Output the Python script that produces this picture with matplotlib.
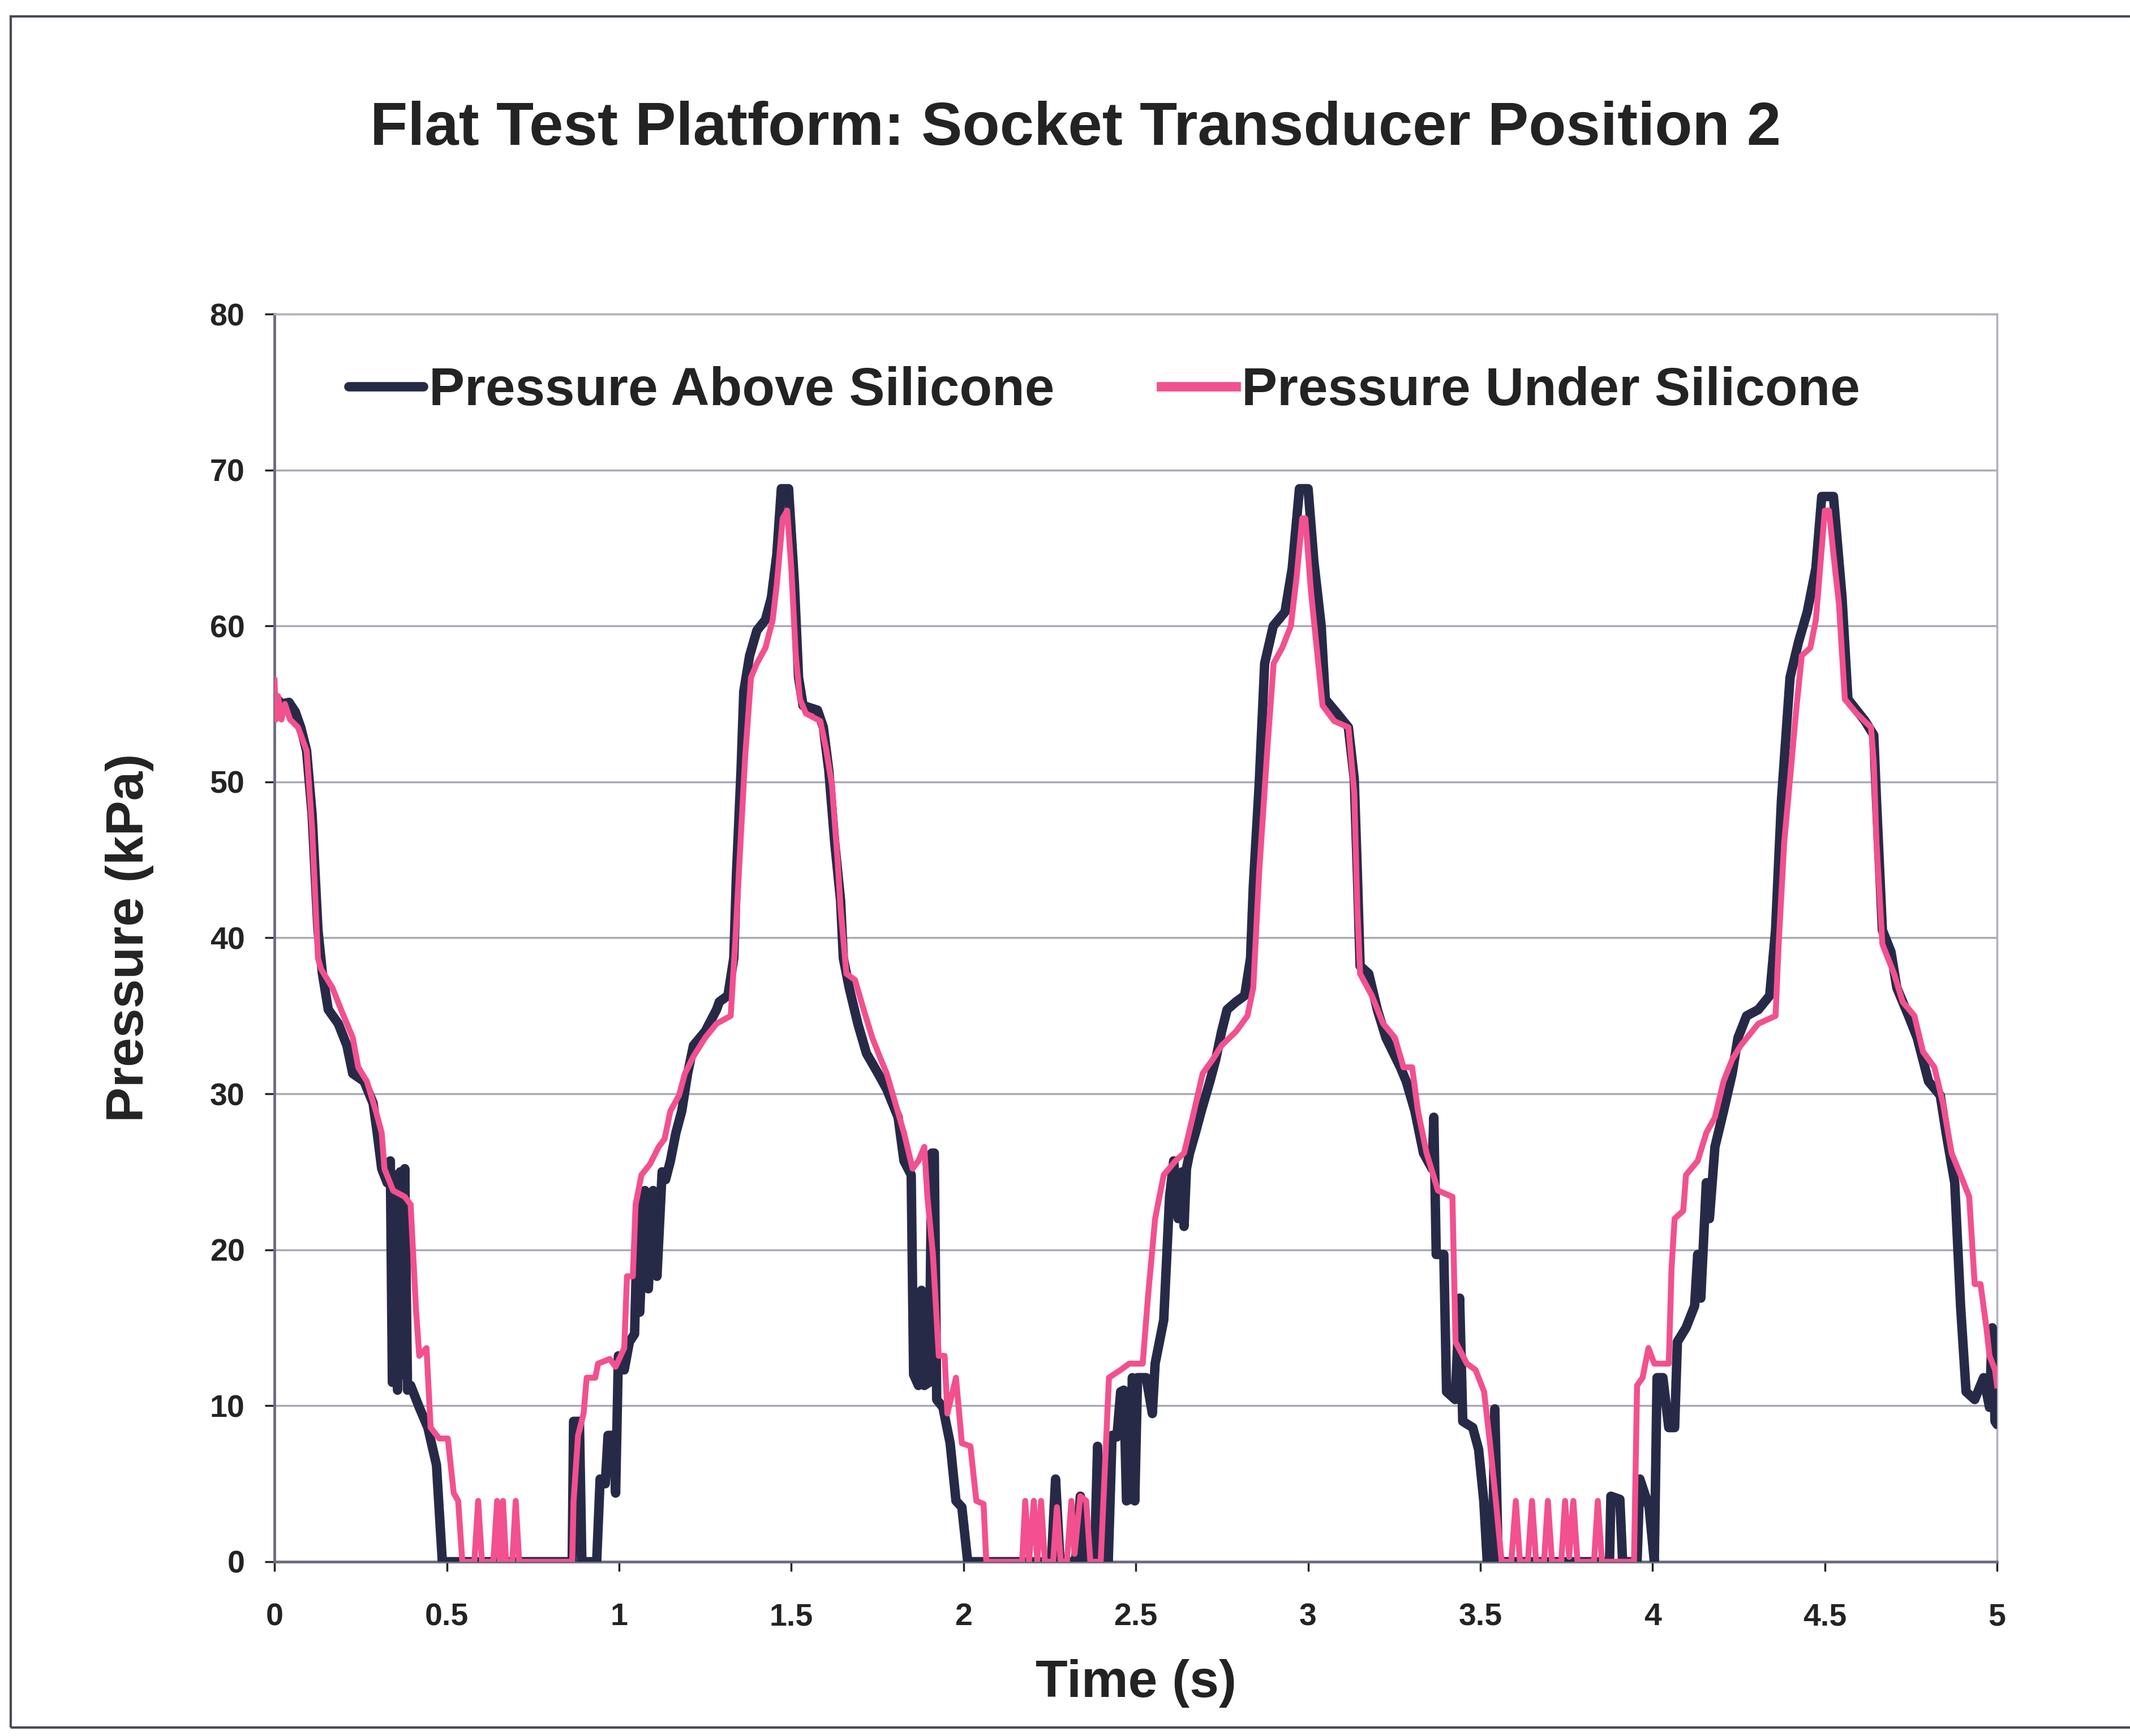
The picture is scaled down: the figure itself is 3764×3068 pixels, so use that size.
import matplotlib
import matplotlib.pyplot as plt
from matplotlib.patches import Rectangle

matplotlib.use('Agg')

plt.rcParams['font.family'] = ['Liberation Sans', 'DejaVu Sans']
plt.rcParams['font.weight'] = 'bold'

# sensor readings, time in seconds / pressure in kPa
t_above = [
    0.0, 0.02, 0.042, 0.06, 0.076, 0.093, 0.109, 0.126, 0.139, 0.156,
    0.185, 0.21, 0.227, 0.26, 0.286, 0.298, 0.311, 0.327, 0.336, 0.342,
    0.35, 0.357, 0.365, 0.372, 0.378, 0.386, 0.395, 0.42, 0.445, 0.47,
    0.487, 0.864, 0.868, 0.885, 0.892, 0.935, 0.945, 0.96, 0.968, 0.985,
    0.99, 0.998, 1.015, 1.03, 1.045, 1.055, 1.06, 1.075, 1.085, 1.099,
    1.11, 1.125, 1.135, 1.149, 1.165, 1.182, 1.199, 1.216, 1.25, 1.283,
    1.291, 1.316, 1.333, 1.341, 1.354, 1.362, 1.379, 1.4, 1.425, 1.442,
    1.458, 1.471, 1.492, 1.509, 1.521, 1.534, 1.576, 1.593, 1.609, 1.626,
    1.643, 1.651, 1.668, 1.693, 1.718, 1.752, 1.777, 1.81, 1.827, 1.848,
    1.855, 1.869, 1.878, 1.886, 1.9, 1.908, 1.915, 1.922, 1.94, 1.961,
    1.978, 1.995, 2.012, 2.255, 2.267, 2.28, 2.325, 2.339, 2.352, 2.38,
    2.389, 2.4, 2.42, 2.431, 2.445, 2.456, 2.465, 2.473, 2.482, 2.49,
    2.497, 2.505, 2.53, 2.548, 2.556, 2.581, 2.59, 2.598, 2.61, 2.623,
    2.635, 2.64, 2.647, 2.656, 2.673, 2.69, 2.715, 2.732, 2.749, 2.765,
    2.791, 2.816, 2.833, 2.841, 2.858, 2.874, 2.899, 2.933, 2.954, 2.975,
    3.0, 3.017, 3.038, 3.05, 3.084, 3.117, 3.134, 3.143, 3.151, 3.176,
    3.201, 3.226, 3.268, 3.285, 3.31, 3.335, 3.36, 3.365, 3.372, 3.394,
    3.402, 3.427, 3.44, 3.449, 3.478, 3.495, 3.51, 3.52, 3.535, 3.542,
    3.552, 3.875, 3.879, 3.905, 3.913, 3.955, 3.963, 3.99, 4.005, 4.013,
    4.03, 4.047, 4.064, 4.072, 4.097, 4.122, 4.131, 4.14, 4.156, 4.165,
    4.181, 4.206, 4.231, 4.248, 4.273, 4.307, 4.34, 4.357, 4.374, 4.399,
    4.424, 4.449, 4.474, 4.491, 4.525, 4.55, 4.567, 4.617, 4.642, 4.65,
    4.667, 4.692, 4.709, 4.743, 4.768, 4.801, 4.835, 4.852, 4.877, 4.894,
    4.91, 4.935, 4.961, 4.978, 4.986, 4.994, 5.0,
]
p_above = [
    55.5, 55.0, 55.1, 54.5, 53.5, 52.0, 47.9, 40.5, 37.7, 35.4,
    34.5, 33.1, 31.3, 30.8, 29.4, 27.5, 25.2, 24.3, 25.7, 11.5,
    24.8, 11.0, 25.0, 12.0, 25.2, 11.0, 11.3, 9.9, 8.6, 6.2,
    0.0, 0.0, 9.0, 9.0, 0.0, 0.0, 5.3, 5.0, 8.1, 8.1,
    4.4, 13.2, 12.3, 14.1, 14.6, 23.0, 16.0, 23.8, 17.5, 23.8,
    18.3, 25.0, 24.5, 25.7, 27.5, 28.9, 31.3, 33.1, 34.0, 35.4,
    35.9, 36.3, 38.7, 44.2, 50.7, 55.8, 58.1, 59.7, 60.4, 61.8,
    64.6, 68.8, 68.8, 62.7, 56.7, 54.9, 54.6, 53.5, 50.7, 46.1,
    42.4, 38.7, 36.8, 34.5, 32.6, 31.3, 30.3, 28.5, 25.7, 24.8,
    12.0, 11.3, 17.4, 11.3, 11.5, 26.2, 26.2, 10.4, 9.9, 7.6,
    3.9, 3.5, 0.0, 0.0, 5.3, 0.0, 0.0, 4.2, 0.0, 0.0,
    7.4, 0.0, 0.0, 8.1, 8.0, 10.9, 11.0, 3.9, 4.0, 11.8,
    3.9, 11.8, 11.8, 9.5, 12.7, 15.5, 19.7, 23.4, 25.7, 22.0,
    25.0, 21.5, 25.2, 26.2, 27.5, 28.9, 30.8, 32.2, 34.0, 35.4,
    35.9, 36.3, 38.7, 43.3, 49.8, 57.6, 60.0, 60.9, 63.7, 68.8,
    68.8, 64.1, 60.0, 55.3, 54.4, 53.5, 50.2, 44.2, 38.2, 37.7,
    35.4, 33.6, 31.7, 30.8, 28.9, 26.2, 25.2, 28.5, 19.7, 19.7,
    10.9, 10.4, 16.9, 9.0, 8.6, 7.2, 3.9, 0.0, 0.0, 9.8,
    0.0, 0.0, 4.2, 4.0, 0.0, 0.0, 5.3, 3.5, 0.0, 11.8,
    11.8, 8.6, 8.6, 14.1, 15.0, 16.4, 19.7, 16.9, 24.3, 22.0,
    26.6, 28.9, 31.3, 33.6, 35.0, 35.4, 36.3, 40.5, 48.8, 56.7,
    59.0, 60.9, 63.7, 68.3, 68.3, 61.8, 55.3, 53.9, 53.0, 48.8,
    40.5, 39.1, 36.8, 35.0, 33.6, 30.8, 29.9, 27.5, 24.3, 16.4,
    10.9, 10.4, 11.8, 9.9, 15.0, 9.0, 8.8,
]

t_under = [
    0.0, 0.004, 0.01, 0.02, 0.03, 0.045, 0.068, 0.093, 0.109, 0.126,
    0.135, 0.168, 0.193, 0.227, 0.243, 0.268, 0.294, 0.311, 0.319, 0.344,
    0.378, 0.395, 0.411, 0.42, 0.441, 0.453, 0.478, 0.503, 0.52, 0.533,
    0.545, 0.58, 0.591, 0.602, 0.635, 0.646, 0.654, 0.663, 0.672, 0.69,
    0.7, 0.71, 0.864, 0.868, 0.881, 0.897, 0.906, 0.931, 0.939, 0.973,
    0.99, 1.015, 1.023, 1.04, 1.048, 1.065, 1.09, 1.115, 1.132, 1.149,
    1.174, 1.191, 1.216, 1.25, 1.283, 1.324, 1.337, 1.35, 1.366, 1.383,
    1.4, 1.425, 1.446, 1.458, 1.475, 1.488, 1.5, 1.513, 1.525, 1.542,
    1.584, 1.601, 1.618, 1.634, 1.643, 1.66, 1.685, 1.71, 1.735, 1.76,
    1.777, 1.802, 1.827, 1.852, 1.869, 1.886, 1.895, 1.911, 1.928, 1.945,
    1.953, 1.978, 1.995, 2.02, 2.037, 2.058, 2.066, 2.17, 2.179, 2.19,
    2.204, 2.214, 2.225, 2.236, 2.26, 2.271, 2.282, 2.3, 2.313, 2.322,
    2.339, 2.356, 2.368, 2.398, 2.422, 2.456, 2.481, 2.52, 2.535, 2.556,
    2.581, 2.615, 2.64, 2.665, 2.694, 2.723, 2.749, 2.791, 2.824, 2.841,
    2.858, 2.883, 2.9, 2.925, 2.95, 2.967, 2.983, 2.992, 3.008, 3.025,
    3.042, 3.076, 3.117, 3.134, 3.143, 3.151, 3.185, 3.218, 3.252, 3.277,
    3.302, 3.319, 3.344, 3.377, 3.419, 3.428, 3.461, 3.486, 3.511, 3.528,
    3.545, 3.562, 3.59, 3.603, 3.615, 3.638, 3.65, 3.662, 3.685, 3.696,
    3.708, 3.735, 3.746, 3.758, 3.77, 3.782, 3.83, 3.841, 3.853, 3.946,
    3.955, 3.971, 3.988, 4.005, 4.047, 4.055, 4.064, 4.089, 4.097, 4.131,
    4.156, 4.181, 4.206, 4.231, 4.256, 4.307, 4.357, 4.366, 4.382, 4.399,
    4.416, 4.433, 4.458, 4.474, 4.5, 4.512, 4.525, 4.541, 4.558, 4.592,
    4.634, 4.642, 4.65, 4.667, 4.701, 4.726, 4.76, 4.785, 4.818, 4.843,
    4.868, 4.894, 4.919, 4.935, 4.952, 4.969, 4.978, 4.994, 5.0,
]
p_under = [
    56.5, 54.0, 55.5, 54.0, 55.0, 54.0, 53.5, 52.0, 47.0, 38.7,
    38.0, 36.8, 35.4, 33.6, 31.7, 30.8, 28.9, 27.5, 25.2, 23.8,
    23.4, 22.9, 16.0, 13.2, 13.7, 8.6, 7.9, 7.9, 4.4, 3.9,
    0.0, 0.0, 3.9, 0.0, 0.0, 3.9, 0.0, 3.9, 0.0, 0.0,
    3.9, 0.0, 0.0, 3.9, 8.1, 9.5, 11.8, 11.8, 12.7, 13.0,
    12.5, 13.7, 18.3, 18.3, 22.9, 24.8, 25.5, 26.6, 27.1, 28.9,
    29.9, 31.3, 32.4, 33.6, 34.5, 35.0, 39.6, 45.1, 51.6, 56.7,
    57.6, 58.6, 60.4, 62.7, 66.9, 67.4, 63.7, 58.1, 55.3, 54.4,
    53.9, 52.1, 49.8, 45.1, 41.9, 37.7, 37.3, 35.4, 33.6, 32.2,
    31.3, 29.4, 27.5, 25.2, 25.7, 26.6, 23.4, 19.7, 13.2, 13.2,
    9.5, 11.8, 7.6, 7.4, 3.9, 3.7, 0.0, 0.0, 3.9, 0.0,
    3.9, 0.0, 3.9, 0.0, 0.0, 3.5, 0.0, 0.0, 3.9, 0.5,
    4.2, 3.9, 0.0, 0.0, 11.8, 12.3, 12.7, 12.7, 16.9, 22.0,
    24.8, 25.7, 26.2, 28.5, 31.3, 32.2, 33.1, 34.0, 35.0, 36.8,
    44.2, 52.5, 57.6, 58.6, 60.0, 63.2, 66.9, 66.9, 62.3, 58.6,
    54.9, 53.9, 53.5, 49.3, 41.9, 37.7, 36.3, 34.5, 33.6, 31.7,
    31.7, 28.9, 26.2, 23.8, 23.4, 14.1, 12.7, 12.3, 10.9, 7.6,
    3.9, 0.0, 0.0, 3.9, 0.0, 0.0, 3.9, 0.0, 0.0, 3.9,
    0.0, 0.0, 3.9, 0.3, 3.9, 0.0, 0.0, 3.9, 0.0, 0.0,
    11.3, 11.8, 13.7, 12.7, 12.7, 18.8, 22.0, 22.5, 24.8, 25.7,
    27.5, 28.5, 30.8, 32.2, 33.1, 34.5, 35.0, 39.6, 46.1, 50.2,
    54.4, 58.1, 58.6, 60.4, 67.4, 67.4, 64.6, 61.4, 55.3, 54.4,
    53.5, 51.2, 46.1, 39.6, 37.7, 35.9, 35.0, 32.7, 31.7, 29.4,
    26.2, 24.8, 23.4, 17.8, 17.8, 15.0, 13.2, 12.3, 11.3,
]

x_ticks = [0, 0.5, 1, 1.5, 2, 2.5, 3, 3.5, 4, 4.5, 5]
x_tick_labels = ['0', '0.5', '1', '1.5', '2', '2.5', '3', '3.5', '4', '4.5', '5']
y_ticks = [0, 10, 20, 30, 40, 50, 60, 70, 80]

dark = '#272a47'
pink = '#f2508f'
text_col = '#232323'
grid_col = '#a9a9b6'

fig = plt.figure(figsize=(37.64, 30.68), dpi=100)
fig.patches.append(Rectangle((0.005, 0.005), 1.2, 0.9855, transform=fig.transFigure,
                             fill=False, edgecolor='#4a4a55', linewidth=3))

ax = fig.add_axes([0.1289, 0.1004, 0.8087, 0.7187])
ax.plot(t_above, p_above, color=dark, linewidth=12, solid_joinstyle='round',
        solid_capstyle='round', label='Pressure Above Silicone', zorder=3)
ax.plot(t_under, p_under, color=pink, linewidth=7.5, solid_joinstyle='round',
        label='Pressure Under Silicone', zorder=4)

ax.set_xlim(0, 5)
ax.set_ylim(0, 80)
ax.set_xticks(x_ticks)
ax.set_xticklabels(x_tick_labels)
ax.set_yticks(y_ticks)
ax.grid(axis='y', color=grid_col, linewidth=2.5, zorder=1)
ax.tick_params(axis='both', labelsize=40, colors=text_col, width=2.5, length=12,
               direction='out')
ax.tick_params(axis='x', pad=40)
ax.tick_params(axis='y', pad=26)
for lab in ax.get_xticklabels() + ax.get_yticklabels():
    lab.set_fontweight('bold')

for side in ['left', 'bottom']:
    ax.spines[side].set_color('#6d6d80')
    ax.spines[side].set_linewidth(3.5)
for side in ['top', 'right']:
    ax.spines[side].set_color('#b0b0bc')
    ax.spines[side].set_linewidth(2.5)

ax.set_xlabel('Time (s)', fontsize=67, fontweight='bold', color=text_col)
ax.set_ylabel('Pressure (kPa)', fontsize=67, fontweight='bold', color=text_col)
ax.xaxis.set_label_coords(0.5, -0.078)
ax.yaxis.set_label_coords(-0.07, 0.5)

leg = ax.legend(loc='center left', bbox_to_anchor=(0.043, 0.938), ncol=2,
                frameon=False, fontsize=68, handlelength=1.4, handletextpad=0.1,
                columnspacing=2.0, borderpad=0, borderaxespad=0)
for line in leg.get_lines():
    line.set_linewidth(12)
for txt in leg.get_texts():
    txt.set_color(text_col)
    txt.set_fontweight('bold')

fig.text(0.505, 0.9257, 'Flat Test Platform: Socket Transducer Position 2',
         ha='center', va='center', fontsize=78, fontweight='bold', color=text_col)

fig.savefig('out.png', dpi=100, facecolor='white')
plt.close(fig)
